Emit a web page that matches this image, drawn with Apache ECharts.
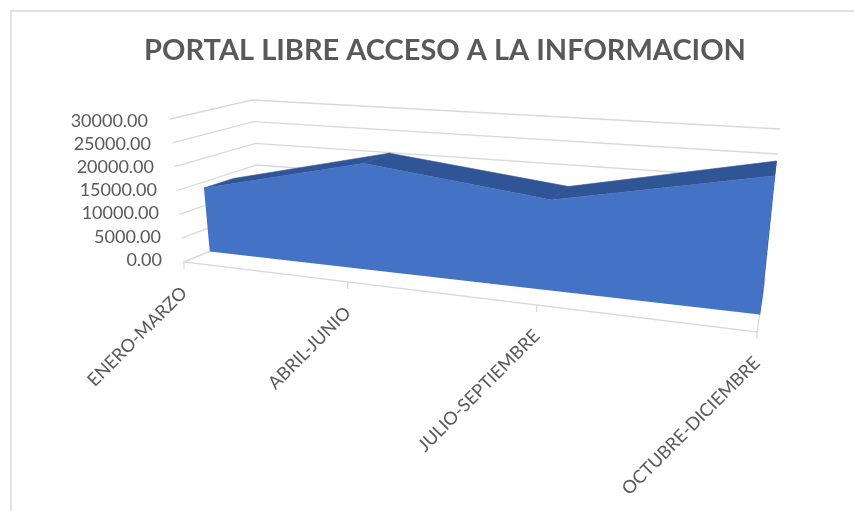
<!DOCTYPE html>
<html>
<head>
<meta charset="utf-8">
<style>html,body{margin:0;padding:0;background:#fff}#c{width:854px;height:511px}</style>
<script src="https://cdn.jsdelivr.net/npm/echarts@6/dist/echarts.min.js"></script>
</head>
<body>
<div id="c"></div>
<script>
const titleText = 'PORTAL LIBRE ACCESO A LA INFORMACION';
const categories = ['ENERO-MARZO', 'ABRIL-JUNIO', 'JULIO-SEPTIEMBRE', 'OCTUBRE-DICIEMBRE'];
const values = [13700, 22000, 17900, 26000];
const valueTicks = [0, 5000, 10000, 15000, 20000, 25000, 30000];
const valueMax = 30000;
const valueStep = 5000;

// Oblique 3D box: screen position of the eight corners of the plot volume
const box = {
  fbl: [184, 262], fbr: [757, 332], bbl: [262, 230], bbr: [765, 279],
  ftl: [170, 119], ftr: [775, 167], btl: [252, 100], btr: [780, 129]
};
const perspective = 1.25;   // foreshortening along the category axis
const perspectiveDepth = 0.11;
const depthFront = 0.33, depthBack = 0.70;
const labelShift = [0, 28];
const labelPad = [0, 1, 3, 5, 8, 11, 14];

const mix = (a, b, t) => [a[0] + (b[0] - a[0]) * t, a[1] + (b[1] - a[1]) * t];
function warp(u, h, d) {
  const k = perspective - perspectiveDepth * Math.max(d - depthFront, 0);
  const s = u / (u + k * (1 - u));
  const fb = mix(box.fbl, box.fbr, s), ft = mix(box.ftl, box.ftr, s);
  const bb = mix(box.bbl, box.bbr, s), bt = mix(box.btl, box.btr, s);
  return mix(mix(fb, ft, h), mix(bb, bt, h), d);
}
function projector(api) {
  const last = categories.length - 1;
  const p0 = api.coord([0, 0]), p1 = api.coord([last, valueMax]);
  return (cat, val, d) => {
    const p = api.coord([cat, val]);
    return warp((p[0] - p0[0]) / (p1[0] - p0[0]), (p0[1] - p[1]) / (p0[1] - p1[1]), d);
  };
}
const gridColor = '#d9d9d9', textColor = '#595959';
const lineStyle = { stroke: gridColor, lineWidth: 1.3, fill: null };

function renderGridline(params, api) {
  const P = projector(api), v = api.value(1), last = categories.length - 1;
  return { type: 'polyline', silent: true,
    shape: { points: [P(0, v, 0), P(0, v, 1), P(last, v, 1)] }, style: lineStyle };
}
function renderFloor(params, api) {
  const P = projector(api), i = api.value(0), last = categories.length - 1;
  const a = P(i, 0, 0);
  const kids = [{ type: 'line', shape: { x1: a[0], y1: a[1], x2: a[0], y2: a[1] + 7 }, style: lineStyle }];
  if (i === 0) {
    const b = P(last, 0, 0), c = P(0, 0, 1), d = P(last, 0, 1);
    kids.push({ type: 'polyline', shape: { points: [c, a, b, d] }, style: lineStyle });
  }
  kids.push({ type: 'text', x: a[0] + labelShift[0], y: a[1] + labelShift[1], rotation: Math.PI / 4,
    style: { text: categories[i], fill: textColor, font: '400 18px Lato', align: 'right', verticalAlign: 'middle' } });
  return { type: 'group', silent: true, children: kids };
}
function renderArea(params, api) {
  if (api.value(0) !== 0) return null;
  const P = projector(api), last = categories.length - 1;
  const kids = [];
  const darkStyle = { fill: '#2f5597', stroke: '#2f5597', lineWidth: 0.6 };
  for (let i = 0; i < last; i++) {
    kids.push({ type: 'polygon', shape: { points: [
      P(i, values[i], depthFront), P(i + 1, values[i + 1], depthFront),
      P(i + 1, values[i + 1], depthBack), P(i, values[i], depthBack)] }, style: darkStyle });
  }
  kids.push({ type: 'polygon', shape: { points: [
    P(last, 0, depthFront), P(last, values[last], depthFront),
    P(last, values[last], depthBack), P(last, 0, depthBack)] }, style: darkStyle });
  const front = values.map((v, i) => P(i, v, depthFront));
  const base = values.map((v, i) => P(i, 0, depthFront)).reverse();
  kids.push({ type: 'polygon', shape: { points: front.concat(base) }, style: { fill: '#4472c4' } });
  return { type: 'group', silent: true, children: kids };
}

const chart = echarts.init(document.getElementById('c'), null, { renderer: 'canvas' });
chart.setOption({
  animation: false,
  backgroundColor: '#fff',
  title: { text: titleText, left: 440, top: 31, textAlign: 'center',
    textStyle: { color: textColor, fontFamily: 'Lato', fontWeight: 700, fontSize: 29 } },
  graphic: [
    { type: 'polyline', silent: true, shape: { points: [[11, 511], [11, 11], [854, 11]] },
      style: { stroke: gridColor, lineWidth: 1.5, fill: null } }
  ],
  grid: { left: 165, right: 97, top: 121, bottom: 251 },
  xAxis: { type: 'category', data: categories, boundaryGap: false, show: false },
  yAxis: { type: 'value', min: 0, max: valueMax, interval: valueStep,
    axisLine: { show: false }, axisTick: { show: false }, splitLine: { show: false },
    axisLabel: { margin: 3, color: textColor,
      formatter: (v) => '{p' + (v / valueStep) + '|' + v.toFixed(2) + '}',
      rich: Object.fromEntries(labelPad.map((p, i) => ['p' + i,
        { padding: [0, p, 0, 0], fontFamily: 'Lato', fontSize: 18, color: textColor }])) } },
  series: [
    { type: 'custom', coordinateSystem: 'cartesian2d', clip: false, z: 1,
      renderItem: renderGridline, data: valueTicks.map(v => [0, v]) },
    { type: 'custom', coordinateSystem: 'cartesian2d', clip: false, z: 2,
      renderItem: renderFloor, data: categories.map((c, i) => [i, 0]) },
    { type: 'custom', coordinateSystem: 'cartesian2d', clip: false, z: 3,
      renderItem: renderArea, data: values.map((v, i) => [i, v]) }
  ]
});
</script>
</body>
</html>
